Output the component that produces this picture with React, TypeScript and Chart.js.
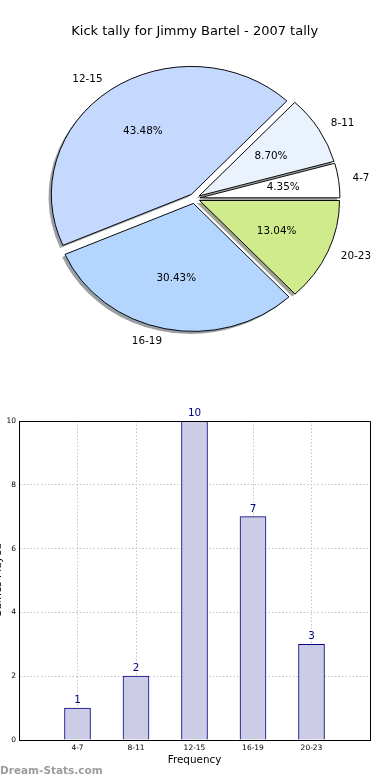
import React, { useEffect, useRef } from 'react';
import { Chart, registerables } from 'chart.js';

Chart.register(...registerables);

// ---------- data ----------
const categories = ['4-7', '8-11', '12-15', '16-19', '20-23'];
const counts = [1, 2, 10, 7, 3];
const sliceColors = ['#ffffff', '#eaf2fe', '#c5d9fe', '#b3d5fe', '#d0eb8b'];
const chartTitle = 'Kick tally for Jimmy Bartel - 2007 tally';
const xTitle = 'Frequency';
const yTitle = 'Games Played';
const watermark = 'Dream-Stats.com';
const yMax = 10;
const yStep = 2;

// ---------- style ----------
const FONT = "'DejaVu Sans', 'Bitstream Vera Sans', sans-serif";
const PIE_R = 140;
const EXPLODE = 5.5;
const Y_SQUASH = 0.914;
const LABEL_SIZE = 10.4;

const total = counts.reduce((a, b) => a + b, 0);
const pieLabels = [...categories].reverse();
const pieValues = [...counts].reverse();
const pieColors = [...sliceColors].reverse();

function shadowOf(hex: string) {
  const r = parseInt(hex.slice(1, 3), 16);
  const g = parseInt(hex.slice(3, 5), 16);
  const b = parseInt(hex.slice(5, 7), 16);
  return `rgba(${Math.round(r * 0.3)},${Math.round(g * 0.3)},${Math.round(b * 0.3)},0.5)`;
}

const piePlugin = {
  id: 'piePlugin',
  beforeDatasetsDraw(chart: any) {
    const ctx = chart.ctx;
    const ca = chart.chartArea;
    const cx = (ca.left + ca.right) / 2;
    const cy = (ca.top + ca.bottom) / 2;
    const meta = chart.getDatasetMeta(0);
    meta.data.forEach((el: any) => {
      const mid = (el.startAngle + el.endAngle) / 2;
      el.x = cx + Math.cos(mid) * EXPLODE;
      el.y = cy + Math.sin(mid) * EXPLODE;
    });
    ctx.save();
    ctx.translate(0, cy);
    ctx.scale(1, Y_SQUASH);
    ctx.translate(0, -cy);
    meta.data.forEach((el: any, i: number) => {
      const sx = el.x - 2.8;
      const sy = el.y + 2.8;
      ctx.beginPath();
      ctx.moveTo(sx, sy);
      ctx.arc(sx, sy, el.outerRadius, el.startAngle, el.endAngle);
      ctx.closePath();
      ctx.fillStyle = shadowOf(pieColors[i]);
      ctx.fill();
    });
  },
  afterDatasetsDraw(chart: any) {
    const ctx = chart.ctx;
    ctx.restore();
    const ca = chart.chartArea;
    const cy = (ca.top + ca.bottom) / 2;
    const meta = chart.getDatasetMeta(0);
    ctx.save();
    ctx.fillStyle = '#000';
    ctx.font = `${LABEL_SIZE}px ${FONT}`;
    ctx.textBaseline = 'alphabetic';
    meta.data.forEach((el: any, i: number) => {
      const mid = (el.startAngle + el.endAngle) / 2;
      const c = Math.cos(mid);
      const s = Math.sin(mid);
      const R = el.outerRadius;
      const lx = el.x + c * R * 1.1;
      const ly = cy + (el.y + s * R * 1.1 - cy) * Y_SQUASH;
      ctx.textAlign = c > 0 ? 'left' : 'right';
      ctx.fillText(pieLabels[i], lx, ly + 0.27 * LABEL_SIZE);
      const px = el.x + c * R * 0.6;
      const py = cy + (el.y + s * R * 0.6 - cy) * Y_SQUASH;
      ctx.textAlign = 'center';
      const pct = ((pieValues[i] / total) * 100).toFixed(2) + '%';
      ctx.fillText(pct, px, py + 0.27 * LABEL_SIZE);
    });
    ctx.restore();
  },
  afterDraw(chart: any) {
    const ctx = chart.ctx;
    ctx.save();
    ctx.fillStyle = '#000';
    ctx.font = `13px ${FONT}`;
    ctx.textAlign = 'center';
    ctx.textBaseline = 'alphabetic';
    ctx.fillText(chartTitle, 194.7, 35);
    ctx.restore();
  },
};

const barPlugin = {
  id: 'barPlugin',
  afterDraw(chart: any) {
    const ctx = chart.ctx;
    const ca = chart.chartArea;
    ctx.save();
    ctx.strokeStyle = '#000';
    ctx.lineWidth = 1;
    ctx.beginPath();
    const l = Math.round(ca.left) + 0.5;
    const r = Math.round(ca.right) + 0.5;
    const t = Math.round(ca.top) + 0.5;
    const b = Math.round(ca.bottom) + 0.5;
    ctx.moveTo(l, t);
    ctx.lineTo(r, t);
    ctx.lineTo(r, b);
    ctx.stroke();
    // value labels
    const meta = chart.getDatasetMeta(0);
    const data = chart.data.datasets[0].data;
    ctx.fillStyle = '#000080';
    ctx.font = `${LABEL_SIZE}px ${FONT}`;
    ctx.textAlign = 'center';
    ctx.textBaseline = 'alphabetic';
    meta.data.forEach((el: any, i: number) => {
      const v = data[i];
      if (v === null || v === undefined) return;
      ctx.fillText(String(v), el.x, el.y - 5);
    });
    // y title (cut off at the left edge)
    ctx.fillStyle = '#000';
    ctx.save();
    ctx.translate(0.6, (ca.top + ca.bottom) / 2);
    ctx.rotate(-Math.PI / 2);
    ctx.textAlign = 'center';
    ctx.fillText(yTitle, 0, 0);
    ctx.restore();
    // watermark
    ctx.fillStyle = '#9c9c9c';
    ctx.font = `bold 10.5px ${FONT}`;
    ctx.textAlign = 'left';
    ctx.textBaseline = 'alphabetic';
    ctx.fillText(watermark, 0, chart.height - 6);
    ctx.restore();
  },
};

export default function App() {
  const pieRef = useRef<HTMLCanvasElement>(null);
  const barRef = useRef<HTMLCanvasElement>(null);

  useEffect(() => {
    const pie = new Chart(pieRef.current as HTMLCanvasElement, {
      type: 'pie',
      data: {
        labels: pieLabels,
        datasets: [
          {
            data: pieValues,
            backgroundColor: pieColors,
            borderColor: '#000',
            borderWidth: 1,
            borderJoinStyle: 'miter',
            offset: 0,
            clip: false,
          } as any,
        ],
      },
      options: {
        animation: false,
        responsive: false,
        events: [],
        rotation: 90,
        radius: PIE_R,
        layout: { padding: { left: 0, right: 1, top: 7, bottom: 0 } },
        plugins: {
          legend: { display: false },
          tooltip: { enabled: false },
          title: { display: false },
        },
      } as any,
      plugins: [piePlugin],
    });

    const gridColor = '#c4c4c4';
    const bar = new Chart(barRef.current as HTMLCanvasElement, {
      type: 'bar',
      data: {
        labels: ['', ...categories, ''],
        datasets: [
          {
            data: [null, ...counts, null],
            backgroundColor: '#cccce6',
            borderColor: '#000080',
            borderWidth: 1,
            barThickness: 26,
          } as any,
        ],
      },
      options: {
        animation: false,
        responsive: false,
        events: [],
        layout: { padding: { top: 31, right: 20, left: 0, bottom: 10 } },
        plugins: {
          legend: { display: false },
          tooltip: { enabled: false },
        },
        scales: {
          x: {
            offset: false,
            z: 1,
            grid: { offset: false, color: gridColor, lineWidth: 1, drawTicks: false },
            border: { display: true, color: '#000', width: 1, dash: [1.5, 2] },
            ticks: {
              font: { family: FONT, size: 7.5 },
              color: '#000',
              padding: 4,
              autoSkip: false,
              maxRotation: 0,
            },
            title: {
              display: true,
              text: xTitle,
              font: { family: FONT, size: LABEL_SIZE },
              color: '#000',
              padding: { top: 0, bottom: 3 },
            },
            afterFit(s: any) {
              s.height = 30;
            },
          },
          y: {
            min: 0,
            max: yMax,
            z: 1,
            grid: { color: gridColor, lineWidth: 1, drawTicks: false },
            border: { display: true, color: '#000', width: 1, dash: [1.5, 2] },
            ticks: {
              stepSize: yStep,
              font: { family: FONT, size: 7.5 },
              color: '#000',
              padding: 3,
            },
            afterFit(s: any) {
              s.width = 19;
            },
          },
        },
      } as any,
      plugins: [barPlugin],
    });

    return () => {
      pie.destroy();
      bar.destroy();
    };
  }, []);

  return (
    <div style={{ position: 'absolute', left: 0, top: 0, width: 390, height: 780, background: '#fff' }}>
      <canvas ref={pieRef} width={390} height={390} style={{ display: 'block', width: 390, height: 390 }} />
      <canvas ref={barRef} width={390} height={390} style={{ display: 'block', width: 390, height: 390 }} />
    </div>
  );
}
